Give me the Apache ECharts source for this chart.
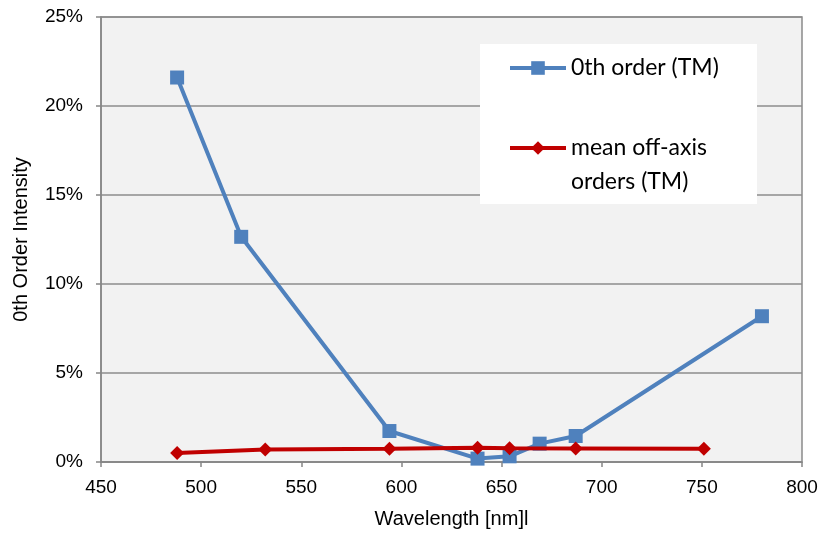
<!DOCTYPE html>
<html><head><meta charset="utf-8">
<script src="https://cdn.jsdelivr.net/npm/echarts@6/dist/echarts.min.js"></script>
<style>html,body{margin:0;padding:0;background:#fff}#c{width:837px;height:536px}</style>
</head><body><div id="c"></div>
<script>
const seriesNames = ['0th order (TM)', 'mean off-axis\norders (TM)'];
const blueX = [488, 520, 594, 638, 654, 669, 687, 780];
const blueY = [21.6, 12.65, 1.74, 0.19, 0.32, 1.03, 1.46, 8.19];
const redX = [488, 532, 594, 638, 654, 687, 751];
const redY = [0.51, 0.70, 0.74, 0.80, 0.77, 0.76, 0.74];
const xTicks = [450, 500, 550, 600, 650, 700, 750, 800];
const yTicks = [0, 5, 10, 15, 20, 25];
const xTitle = 'Wavelength [nm]l';
const yTitle = '0th Order Intensity';

const pair = (xs, ys) => xs.map((x, i) => [x, ys[i]]);
const tickFont = { fontFamily: 'Liberation Sans', fontSize: 19, color: '#000' };
const titleFont = { fontFamily: 'Liberation Sans', fontSize: 20, color: '#000' };
const legendFont = { fontFamily: 'Lato', fontSize: 23, color: '#000', lineHeight: 34 };

const chart = echarts.init(document.getElementById('c'), null, { renderer: 'canvas' });
chart.setOption({
  animation: false,
  backgroundColor: '#fff',
  grid: { left: 101, right: 35, top: 17, bottom: 74, show: true, backgroundColor: '#f2f2f2', borderColor: '#8a8a8a', borderWidth: 1.5 },
  xAxis: {
    type: 'value', min: xTicks[0], max: xTicks[xTicks.length - 1], interval: 50,
    name: xTitle, nameLocation: 'middle', nameGap: 47, nameTextStyle: titleFont,
    axisLine: { show: true, lineStyle: { color: '#868686', width: 1.5 } },
    axisTick: { show: true, length: 5, lineStyle: { color: '#868686', width: 1.5 } },
    axisLabel: Object.assign({ margin: 16 }, tickFont),
    splitLine: { show: false }
  },
  yAxis: {
    type: 'value', min: yTicks[0], max: yTicks[yTicks.length - 1], interval: 5,
    name: yTitle, nameLocation: 'middle', nameGap: 70, nameTextStyle: titleFont,
    axisLine: { show: true, lineStyle: { color: '#868686', width: 1.5 } },
    axisTick: { show: true, length: 5, lineStyle: { color: '#868686', width: 1.5 } },
    axisLabel: Object.assign({ margin: 18, formatter: '{value}%' }, tickFont),
    splitLine: { show: true, lineStyle: { color: '#8c8c8c', width: 1.5 } }
  },
  graphic: [{ type: 'rect', left: 480, top: 44, shape: { width: 277, height: 160 }, style: { fill: '#fff' }, z: 3 }],
  legend: [
    { data: [seriesNames[0]], left: 508, top: 51, orient: 'vertical', padding: 0, itemWidth: 56, itemHeight: 17, itemGap: 0,
      textStyle: legendFont, lineStyle: { width: 4 }, z: 5 },
    { data: [seriesNames[1]], left: 508, top: 97, orient: 'vertical', padding: 0, itemWidth: 56, itemHeight: 17, itemGap: 0,
      textStyle: legendFont, lineStyle: { width: 4 }, z: 5, formatter: n => '\n' + n }
  ],
  series: [
    { name: seriesNames[0], type: 'line', data: pair(blueX, blueY), symbol: 'rect', symbolSize: 14,
      lineStyle: { color: '#4f81bd', width: 4 }, itemStyle: { color: '#4f81bd' }, z: 2 },
    { name: seriesNames[1], type: 'line', data: pair(redX, redY), symbol: 'diamond', symbolSize: 14,
      lineStyle: { color: '#c00000', width: 4 }, itemStyle: { color: '#c00000' }, z: 3 }
  ]
});
</script></body></html>
